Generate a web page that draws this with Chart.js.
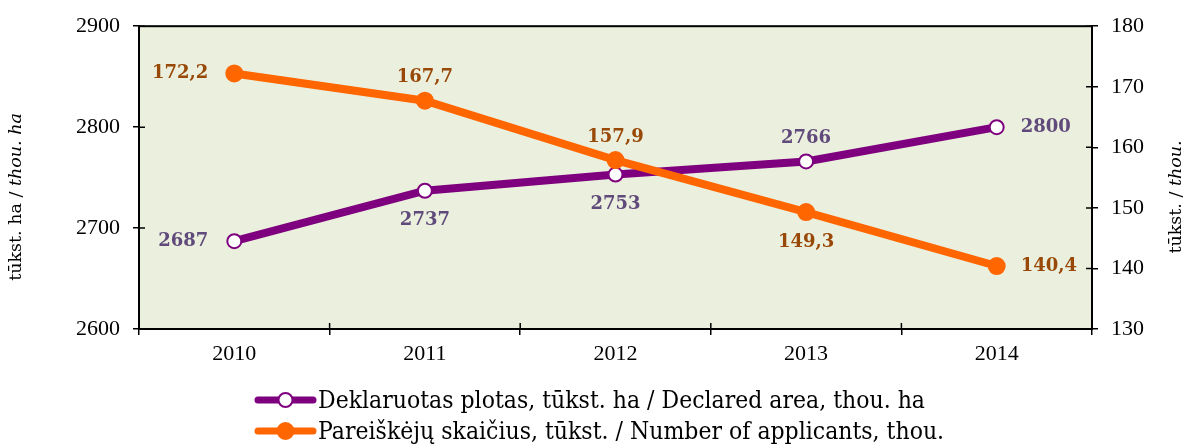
<!DOCTYPE html>
<html>
  <head>
    <title>Deklaruotas plotas ir pareiškėjai</title>
    <script src="https://cdn.jsdelivr.net/npm/chart.js@4"></script>
    <style>
      html, body { margin: 0; padding: 0; background: #fff; }
      #wrap { width: 1189px; height: 444px; }
    </style>
  </head>
  <body>
    <div id="wrap"><canvas id="chart"></canvas></div>
    <script>
      const years = ["2010", "2011", "2012", "2013", "2014"]
      const declaredArea = [2687, 2737, 2753, 2766, 2800]
      const applicants = [172.2, 167.7, 157.9, 149.3, 140.4]
      const areaLabelPlace = ["left", "below", "below", "above", "right"]
      const applicantLabelPlace = ["left", "above", "above", "below", "right"]

      const colors = {
        purple: "#7f007f",
        purpleText: "#604a7b",
        orange: "#ff6600",
        orangeText: "#984807",
        plotBg: "#ebf0de",
      }
      const serif = "'DejaVu Serif', serif"
      const tickSerif = "'Liberation Serif', serif"

      // light green plot box with a frame, inner halves of the tick marks
      const plotFrame = {
        id: "plotFrame",
        beforeDraw(chart) {
          const { ctx, chartArea: a } = chart
          ctx.save()
          ctx.fillStyle = colors.plotBg
          ctx.fillRect(a.left, a.top, a.right - a.left, a.bottom - a.top)
          ctx.restore()
        },
        afterDraw(chart) {
          const { ctx, chartArea: a, scales } = chart
          ctx.save()
          ctx.strokeStyle = "#000"
          ctx.lineWidth = 2
          ctx.strokeRect(a.left, a.top, a.right - a.left, a.bottom - a.top)
          ctx.lineWidth = 1.5
          ctx.beginPath()
          scales.y.ticks.forEach(t => {
            const y = scales.y.getPixelForValue(t.value)
            ctx.moveTo(a.left, y); ctx.lineTo(a.left + 6, y)
          })
          scales.y1.ticks.forEach(t => {
            const y = scales.y1.getPixelForValue(t.value)
            ctx.moveTo(a.right, y); ctx.lineTo(a.right - 6, y)
          })
          for (let i = 0; i <= years.length; i++) {
            const x = scales.x.getPixelForValue(i - 0.5)
            ctx.moveTo(x, a.bottom); ctx.lineTo(x, a.bottom - 6)
          }
          ctx.stroke()
          ctx.restore()
        },
      }

      // value labels next to the points
      const pointLabels = {
        id: "pointLabels",
        afterDatasetsDraw(chart) {
          const { ctx } = chart
          ctx.save()
          ctx.font = "bold 18px " + serif
          chart.data.datasets.forEach((ds, di) => {
            const meta = chart.getDatasetMeta(di)
            meta.data.forEach((pt, i) => {
              const place = ds.labelPlace[i]
              const text = ds.format(ds.data[i])
              let x = pt.x, y = pt.y
              ctx.textAlign = "center"
              ctx.textBaseline = "middle"
              if (place === "above") y -= 23
              if (place === "below") y += 30
              if (place === "left") { x -= 26; ctx.textAlign = "right" }
              if (place === "right") { x += 24; ctx.textAlign = "left" }
              ctx.fillStyle = ds.labelColor
              ctx.fillText(text, x, y)
            })
          })
          ctx.restore()
        },
      }

      function drawMixed(ctx, parts, x, y) {
        let total = 0
        parts.forEach(p => { ctx.font = p.font; total += ctx.measureText(p.text).width })
        let cx = x - total / 2
        parts.forEach(p => {
          ctx.font = p.font
          ctx.fillText(p.text, cx, y)
          cx += ctx.measureText(p.text).width
        })
      }

      // rotated axis titles with an italic English part
      const axisTitles = {
        id: "axisTitles",
        afterDraw(chart) {
          const { ctx } = chart
          const reg = "17.5px " + serif
          const ita = "italic 17.5px " + serif
          ctx.save()
          ctx.fillStyle = "#000"
          ctx.textAlign = "left"
          ctx.textBaseline = "middle"
          ctx.save()
          ctx.translate(16, 197)
          ctx.rotate(-Math.PI / 2)
          drawMixed(ctx, [{ text: "tūkst. ha / ", font: reg }, { text: "thou. ha", font: ita }], 0, 0)
          ctx.restore()
          ctx.save()
          ctx.translate(1176, 197)
          ctx.rotate(-Math.PI / 2)
          drawMixed(ctx, [{ text: "tūkst. / ", font: reg }, { text: "thou.", font: ita }], 0, 0)
          ctx.restore()
          ctx.restore()
        },
      }

      // legend under the chart: long line with the marker in the middle
      const lineLegend = {
        id: "lineLegend",
        afterDraw(chart) {
          const { ctx } = chart
          const rows = [400, 431]
          ctx.save()
          ctx.font = "25px " + serif
          const squeeze = 607 / ctx.measureText(chart.data.datasets[0].legendText).width
          chart.data.datasets.forEach((ds, i) => {
            const y = rows[i]
            ctx.strokeStyle = ds.borderColor
            ctx.lineWidth = 7
            ctx.lineCap = "round"
            ctx.beginPath()
            ctx.moveTo(258, y); ctx.lineTo(313, y)
            ctx.stroke()
            ctx.beginPath()
            ctx.arc(285.5, y, ds.pointRadius, 0, Math.PI * 2)
            ctx.fillStyle = ds.pointBackgroundColor
            ctx.fill()
            ctx.lineWidth = ds.pointBorderWidth
            ctx.strokeStyle = ds.pointBorderColor
            ctx.stroke()
            ctx.save()
            ctx.translate(318, y)
            ctx.scale(squeeze, 1)
            ctx.fillStyle = "#000"
            ctx.textAlign = "left"
            ctx.textBaseline = "middle"
            ctx.fillText(ds.legendText, 0, 1)
            ctx.restore()
          })
          ctx.restore()
        },
      }

      const tickFont = { family: tickSerif, size: 22 }
      const plain = v => String(v)

      new Chart(document.getElementById("chart"), {
        type: "line",
        data: {
          labels: years,
          datasets: [
            {
              label: "Deklaruotas plotas",
              legendText: "Deklaruotas plotas, tūkst. ha / Declared area, thou. ha",
              data: declaredArea,
              yAxisID: "y",
              order: 1,
              borderColor: colors.purple,
              borderWidth: 8,
              pointRadius: 7,
              pointHoverRadius: 7,
              pointBorderWidth: 2,
              pointBackgroundColor: "#fff",
              pointBorderColor: colors.purple,
              labelColor: colors.purpleText,
              labelPlace: areaLabelPlace,
              format: v => String(v),
            },
            {
              label: "Pareiškėjų skaičius",
              legendText: "Pareiškėjų skaičius, tūkst. / Number of applicants, thou.",
              data: applicants,
              yAxisID: "y1",
              order: 0,
              borderColor: colors.orange,
              borderWidth: 8,
              pointRadius: 8,
              pointHoverRadius: 8,
              pointBorderWidth: 2,
              pointBackgroundColor: colors.orange,
              pointBorderColor: colors.orange,
              labelColor: colors.orangeText,
              labelPlace: applicantLabelPlace,
              format: v => v.toFixed(1).replace(".", ","),
            },
          ],
        },
        options: {
          responsive: true,
          maintainAspectRatio: false,
          animation: false,
          layout: { padding: { top: 25, left: 0, right: 0, bottom: 0 } },
          plugins: {
            legend: { display: false },
            tooltip: { enabled: false },
          },
          scales: {
            x: {
              offset: true,
              grid: { offset: true, drawOnChartArea: false, color: "#000", tickLength: 6, lineWidth: 1.5 },
              border: { color: "#000", width: 2 },
              ticks: { color: "#000", font: tickFont, padding: 6, maxRotation: 0 },
              afterFit(scale) { scale.height = 115 },
            },
            y: {
              position: "left",
              min: 2600,
              max: 2900,
              ticks: { stepSize: 100, color: "#000", font: tickFont, padding: 13, callback: plain },
              grid: { drawOnChartArea: false, color: "#000", tickLength: 6, lineWidth: 1.5 },
              border: { color: "#000", width: 2 },
              afterFit(scale) { scale.width = 139 },
            },
            y1: {
              position: "right",
              min: 130,
              max: 180,
              ticks: { stepSize: 10, color: "#000", font: tickFont, padding: 13, callback: plain },
              grid: { drawOnChartArea: false, color: "#000", tickLength: 6, lineWidth: 1.5 },
              border: { color: "#000", width: 2 },
              afterFit(scale) { scale.width = 97 },
            },
          },
        },
        plugins: [plotFrame, pointLabels, axisTitles, lineLegend],
      })
    </script>
  </body>
</html>
